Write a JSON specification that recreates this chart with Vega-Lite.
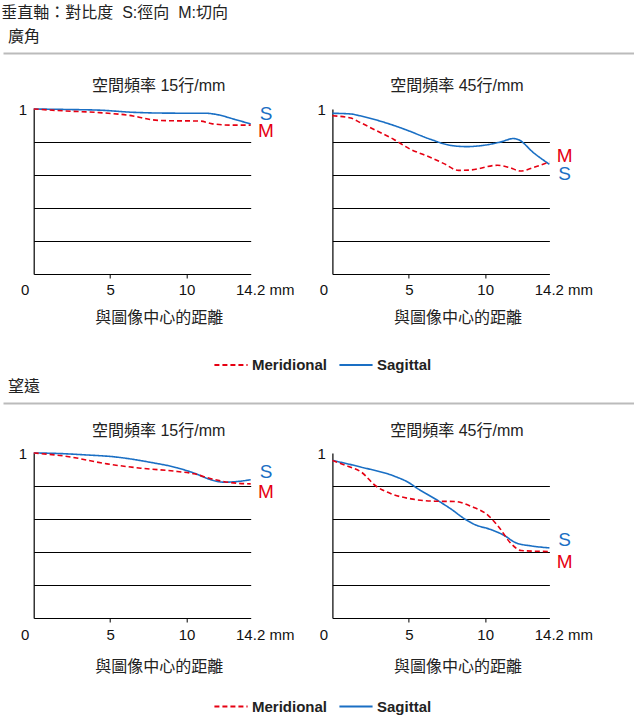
{
  "$schema": "https://vega.github.io/schema/vega-lite/v6.json",
  "background": "white",
  "padding": {"top": 5, "left": 0, "right": 0, "bottom": 0},
  "autosize": {"type": "pad"},
  "spacing": 0,
  "title": {"text": "垂直軸：對比度\u00a0 S:徑向\u00a0 M:切向", "anchor": "start", "dx": 1, "offset": 8},
  "config": {
    "view": {"stroke": null},
    "font": "'Liberation Sans', 'Noto Sans CJK TC'",
    "title": {"font": "'Liberation Sans', 'Noto Sans CJK TC'", "fontSize": 16, "fontWeight": "normal", "color": "#222222"},
    "axis": {"labelFont": "'Liberation Sans', 'Noto Sans CJK TC'", "labelFontSize": 15, "labelColor": "#111111", "titleFont": "'Liberation Sans', 'Noto Sans CJK TC'", "titleFontSize": 16, "titleFontWeight": "normal", "titleColor": "#222222", "domainColor": "#000000", "tickColor": "#000000", "gridColor": "#000000", "domainWidth": 1.2, "gridWidth": 1}
  },
  "resolve": {
    "scale": {"x": "independent", "y": "independent", "color": "independent", "strokeDash": "independent"},
    "legend": {"color": "independent", "strokeDash": "independent"}
  },
  "datasets": {
    "curves": [
      {"p": "w15", "t": "Sagittal", "x": 0, "v": 1.0},
      {"p": "w15", "t": "Sagittal", "x": 2.2, "v": 0.997},
      {"p": "w15", "t": "Sagittal", "x": 4.3, "v": 0.993},
      {"p": "w15", "t": "Sagittal", "x": 6.5, "v": 0.98},
      {"p": "w15", "t": "Sagittal", "x": 8.7, "v": 0.975},
      {"p": "w15", "t": "Sagittal", "x": 11.3, "v": 0.974},
      {"p": "w15", "t": "Sagittal", "x": 12.0, "v": 0.966},
      {"p": "w15", "t": "Sagittal", "x": 13.05, "v": 0.94},
      {"p": "w15", "t": "Sagittal", "x": 14.2, "v": 0.909},
      {"p": "w15", "t": "Meridional", "x": 0, "v": 1.0},
      {"p": "w15", "t": "Meridional", "x": 2.1, "v": 0.988},
      {"p": "w15", "t": "Meridional", "x": 4.3, "v": 0.978},
      {"p": "w15", "t": "Meridional", "x": 6.5, "v": 0.958},
      {"p": "w15", "t": "Meridional", "x": 7.8, "v": 0.934},
      {"p": "w15", "t": "Meridional", "x": 8.8, "v": 0.929},
      {"p": "w15", "t": "Meridional", "x": 10.9, "v": 0.927},
      {"p": "w15", "t": "Meridional", "x": 11.7, "v": 0.91},
      {"p": "w15", "t": "Meridional", "x": 13.1, "v": 0.902},
      {"p": "w15", "t": "Meridional", "x": 14.2, "v": 0.902},
      {"p": "w45", "t": "Sagittal", "x": 0, "v": 0.974},
      {"p": "w45", "t": "Sagittal", "x": 1.2, "v": 0.97},
      {"p": "w45", "t": "Sagittal", "x": 1.8, "v": 0.959},
      {"p": "w45", "t": "Sagittal", "x": 3.4, "v": 0.919},
      {"p": "w45", "t": "Sagittal", "x": 4.7, "v": 0.878},
      {"p": "w45", "t": "Sagittal", "x": 6.4, "v": 0.817},
      {"p": "w45", "t": "Sagittal", "x": 7.7, "v": 0.78},
      {"p": "w45", "t": "Sagittal", "x": 8.8, "v": 0.772},
      {"p": "w45", "t": "Sagittal", "x": 9.9, "v": 0.78},
      {"p": "w45", "t": "Sagittal", "x": 11.0, "v": 0.8},
      {"p": "w45", "t": "Sagittal", "x": 11.85, "v": 0.821},
      {"p": "w45", "t": "Sagittal", "x": 12.2, "v": 0.813},
      {"p": "w45", "t": "Sagittal", "x": 13.15, "v": 0.736},
      {"p": "w45", "t": "Sagittal", "x": 14.2, "v": 0.665},
      {"p": "w45", "t": "Meridional", "x": 0, "v": 0.959},
      {"p": "w45", "t": "Meridional", "x": 1.2, "v": 0.945},
      {"p": "w45", "t": "Meridional", "x": 1.8, "v": 0.919},
      {"p": "w45", "t": "Meridional", "x": 2.9, "v": 0.868},
      {"p": "w45", "t": "Meridional", "x": 4.0, "v": 0.817},
      {"p": "w45", "t": "Meridional", "x": 5.1, "v": 0.756},
      {"p": "w45", "t": "Meridional", "x": 6.2, "v": 0.715},
      {"p": "w45", "t": "Meridional", "x": 7.3, "v": 0.669},
      {"p": "w45", "t": "Meridional", "x": 8.25, "v": 0.628},
      {"p": "w45", "t": "Meridional", "x": 9.0, "v": 0.63},
      {"p": "w45", "t": "Meridional", "x": 10.8, "v": 0.659},
      {"p": "w45", "t": "Meridional", "x": 11.6, "v": 0.645},
      {"p": "w45", "t": "Meridional", "x": 12.3, "v": 0.624},
      {"p": "w45", "t": "Meridional", "x": 13.15, "v": 0.645},
      {"p": "w45", "t": "Meridional", "x": 14.2, "v": 0.679},
      {"p": "t15", "t": "Sagittal", "x": 0, "v": 1.0},
      {"p": "t15", "t": "Sagittal", "x": 1.3, "v": 0.998},
      {"p": "t15", "t": "Sagittal", "x": 3.3, "v": 0.989},
      {"p": "t15", "t": "Sagittal", "x": 5.45, "v": 0.975},
      {"p": "t15", "t": "Sagittal", "x": 7.6, "v": 0.944},
      {"p": "t15", "t": "Sagittal", "x": 9.4, "v": 0.91},
      {"p": "t15", "t": "Sagittal", "x": 10.5, "v": 0.878},
      {"p": "t15", "t": "Sagittal", "x": 11.6, "v": 0.838},
      {"p": "t15", "t": "Sagittal", "x": 12.45, "v": 0.823},
      {"p": "t15", "t": "Sagittal", "x": 13.3, "v": 0.827},
      {"p": "t15", "t": "Sagittal", "x": 14.2, "v": 0.838},
      {"p": "t15", "t": "Meridional", "x": 0, "v": 1.0},
      {"p": "t15", "t": "Meridional", "x": 2.2, "v": 0.979},
      {"p": "t15", "t": "Meridional", "x": 4.8, "v": 0.934},
      {"p": "t15", "t": "Meridional", "x": 7.0, "v": 0.908},
      {"p": "t15", "t": "Meridional", "x": 9.4, "v": 0.888},
      {"p": "t15", "t": "Meridional", "x": 10.5, "v": 0.874},
      {"p": "t15", "t": "Meridional", "x": 11.6, "v": 0.844},
      {"p": "t15", "t": "Meridional", "x": 12.7, "v": 0.823},
      {"p": "t15", "t": "Meridional", "x": 14.2, "v": 0.813},
      {"p": "t45", "t": "Sagittal", "x": 0, "v": 0.955},
      {"p": "t45", "t": "Sagittal", "x": 1.9, "v": 0.914},
      {"p": "t45", "t": "Sagittal", "x": 4.1, "v": 0.858},
      {"p": "t45", "t": "Sagittal", "x": 4.95, "v": 0.823},
      {"p": "t45", "t": "Sagittal", "x": 5.6, "v": 0.783},
      {"p": "t45", "t": "Sagittal", "x": 6.9, "v": 0.712},
      {"p": "t45", "t": "Sagittal", "x": 7.8, "v": 0.658},
      {"p": "t45", "t": "Sagittal", "x": 8.65, "v": 0.601},
      {"p": "t45", "t": "Sagittal", "x": 9.3, "v": 0.567},
      {"p": "t45", "t": "Sagittal", "x": 10.4, "v": 0.535},
      {"p": "t45", "t": "Sagittal", "x": 11.25, "v": 0.5},
      {"p": "t45", "t": "Sagittal", "x": 12.0, "v": 0.456},
      {"p": "t45", "t": "Sagittal", "x": 13.0, "v": 0.437},
      {"p": "t45", "t": "Sagittal", "x": 14.2, "v": 0.425},
      {"p": "t45", "t": "Meridional", "x": 0, "v": 0.955},
      {"p": "t45", "t": "Meridional", "x": 1.05, "v": 0.918},
      {"p": "t45", "t": "Meridional", "x": 1.9, "v": 0.884},
      {"p": "t45", "t": "Meridional", "x": 2.8, "v": 0.803},
      {"p": "t45", "t": "Meridional", "x": 3.85, "v": 0.753},
      {"p": "t45", "t": "Meridional", "x": 5.15, "v": 0.722},
      {"p": "t45", "t": "Meridional", "x": 6.7, "v": 0.708},
      {"p": "t45", "t": "Meridional", "x": 8.0, "v": 0.706},
      {"p": "t45", "t": "Meridional", "x": 9.1, "v": 0.676},
      {"p": "t45", "t": "Meridional", "x": 10.2, "v": 0.621},
      {"p": "t45", "t": "Meridional", "x": 10.9, "v": 0.55},
      {"p": "t45", "t": "Meridional", "x": 11.7, "v": 0.45},
      {"p": "t45", "t": "Meridional", "x": 12.35, "v": 0.409},
      {"p": "t45", "t": "Meridional", "x": 14.2, "v": 0.403}
    ],
    "labels": [
      {"p": "w15", "t": "Sagittal", "lab": "S", "x": 15.2, "v": 0.97},
      {"p": "w15", "t": "Meridional", "lab": "M", "x": 15.2, "v": 0.866},
      {"p": "w45", "t": "Meridional", "lab": "M", "x": 15.2, "v": 0.713},
      {"p": "w45", "t": "Sagittal", "lab": "S", "x": 15.2, "v": 0.604},
      {"p": "t15", "t": "Sagittal", "lab": "S", "x": 15.2, "v": 0.882},
      {"p": "t15", "t": "Meridional", "lab": "M", "x": 15.2, "v": 0.761},
      {"p": "t45", "t": "Sagittal", "lab": "S", "x": 15.2, "v": 0.47},
      {"p": "t45", "t": "Meridional", "lab": "M", "x": 15.2, "v": 0.342}
    ],
    "legend": [{"t": "Meridional"}, {"t": "Sagittal"}],
    "sep": [{"s": 0}],
    "none": []
  },
  "vconcat": [
    {
      "width": 634, "height": 25,
      "title": {"text": "廣角", "anchor": "start", "frame": "group", "dx": 5, "offset": 8},
      "data": {"name": "sep"},
      "mark": {"type": "point", "opacity": 0},
      "encoding": {"x": {"field": "s", "type": "quantitative", "scale": {"domain": [0, 1]}, "axis": {"orient": "top", "title": null, "labels": false, "ticks": false, "grid": false, "domainColor": "#bbbbbb", "domainWidth": 2}}}
    },
    {
      "hconcat": [
        {"width": 1, "height": 1, "data": {"name": "none"}, "mark": "point"},
        {
          "width": 217, "height": 165,
          "title": {"text": "空間頻率 15行/mm", "frame": "group", "dx": 16.5, "offset": 8},
          "layer": [
            {
              "data": {"name": "curves"},
              "transform": [{"filter": "datum.p == 'w15'"}],
              "mark": {"type": "line", "interpolate": "monotone", "strokeWidth": 1.6},
              "encoding": {
                "x": {"field": "x", "type": "quantitative", "scale": {"domain": [0, 14.2], "nice": false, "zero": false},
                  "axis": {"values": [0, 5, 10, 14.2], "title": "與圖像中心的距離", "titleX": 125, "labelExpr": "datum.value > 14 ? '14.2 mm' : datum.value + ''", "labelFlush": false, "labelOffset": {"condition": [{"test": "datum.value == 0", "value": -9}, {"test": "datum.value > 14", "value": 14}], "value": 0}, "tickSize": 4, "tickOpacity": {"condition": {"test": "datum.value == 0 || datum.value > 14", "value": 0}, "value": 1}, "grid": false, "labelPadding": 4, "titlePadding": 12}},
                "y": {"field": "v", "type": "quantitative", "scale": {"domain": [0, 1], "nice": false},
                  "axis": {"values": [0.2, 0.4, 0.6, 0.8, 1], "labelExpr": "datum.value == 1 ? '1' : ''", "ticks": false, "grid": true, "gridOpacity": {"condition": {"test": "datum.value == 1", "value": 0}, "value": 1}, "labelPadding": 7, "title": null}},
                "color": {"field": "t", "type": "nominal", "scale": {"domain": ["Meridional", "Sagittal"], "range": ["#e60012", "#1a6fc4"]}, "legend": null},
                "strokeDash": {"field": "t", "type": "nominal", "scale": {"domain": ["Meridional", "Sagittal"], "range": [[5, 3], [1, 0]]}, "legend": null}
              }
            },
            {
              "data": {"name": "labels"},
              "transform": [{"filter": "datum.p == 'w15'"}],
              "mark": {"type": "text", "fontSize": 19, "font": "Liberation Sans", "align": "center", "baseline": "middle"},
              "encoding": {
                "x": {"field": "x", "type": "quantitative"},
                "y": {"field": "v", "type": "quantitative"},
                "text": {"field": "lab"},
                "color": {"field": "t", "type": "nominal", "legend": null}
              }
            }
          ]
        },
        {
          "width": 217, "height": 165,
          "title": {"text": "空間頻率 45行/mm", "frame": "group", "dx": 16, "offset": 8},
          "layer": [
            {
              "data": {"name": "curves"},
              "transform": [{"filter": "datum.p == 'w45'"}],
              "mark": {"type": "line", "interpolate": "monotone", "strokeWidth": 1.6},
              "encoding": {
                "x": {"field": "x", "type": "quantitative", "scale": {"domain": [0, 14.2], "nice": false, "zero": false},
                  "axis": {"values": [0, 5, 10, 14.2], "title": "與圖像中心的距離", "titleX": 125, "labelExpr": "datum.value > 14 ? '14.2 mm' : datum.value + ''", "labelFlush": false, "labelOffset": {"condition": [{"test": "datum.value == 0", "value": -9}, {"test": "datum.value > 14", "value": 14}], "value": 0}, "tickSize": 4, "tickOpacity": {"condition": {"test": "datum.value == 0 || datum.value > 14", "value": 0}, "value": 1}, "grid": false, "labelPadding": 4, "titlePadding": 12}},
                "y": {"field": "v", "type": "quantitative", "scale": {"domain": [0, 1], "nice": false},
                  "axis": {"values": [0.2, 0.4, 0.6, 0.8, 1], "labelExpr": "datum.value == 1 ? '1' : ''", "ticks": false, "grid": true, "gridOpacity": {"condition": {"test": "datum.value == 1", "value": 0}, "value": 1}, "labelPadding": 7, "title": ".", "titleOpacity": 0, "titleAngle": 0, "titleX": -23.3, "titleY": 100, "titleAlign": "left", "titleBaseline": "middle"}},
                "color": {"field": "t", "type": "nominal", "scale": {"domain": ["Meridional", "Sagittal"], "range": ["#e60012", "#1a6fc4"]}, "legend": null},
                "strokeDash": {"field": "t", "type": "nominal", "scale": {"domain": ["Meridional", "Sagittal"], "range": [[5, 3], [1, 0]]}, "legend": null}
              }
            },
            {
              "data": {"name": "labels"},
              "transform": [{"filter": "datum.p == 'w45'"}],
              "mark": {"type": "text", "fontSize": 19, "font": "Liberation Sans", "align": "center", "baseline": "middle"},
              "encoding": {
                "x": {"field": "x", "type": "quantitative"},
                "y": {"field": "v", "type": "quantitative"},
                "text": {"field": "lab"},
                "color": {"field": "t", "type": "nominal", "legend": null}
              }
            }
          ]
        }
      ],
      "spacing": 13.7
    },
    {
      "width": 634, "height": 54,
      "data": {"name": "legend"},
      "mark": {"type": "line", "opacity": 0},
      "encoding": {
        "color": {"field": "t", "type": "nominal", "scale": {"domain": ["Meridional", "Sagittal"], "range": ["#e60012", "#1a6fc4"]},
          "legend": {"orient": "none", "legendX": 210, "legendY": 22, "direction": "horizontal", "title": null, "symbolType": "stroke", "symbolSize": 1100, "symbolStrokeWidth": 2, "symbolOpacity": 1, "labelFont": "Liberation Sans", "labelFontSize": 15, "labelFontWeight": "bold", "labelColor": "#222222", "labelOffset": 3, "columnPadding": 7, "padding": 0}},
        "strokeDash": {"field": "t", "type": "nominal", "scale": {"domain": ["Meridional", "Sagittal"], "range": [[5, 3], [1, 0]]}}
      }
    },
    {
      "width": 634, "height": 20,
      "title": {"text": "望遠", "anchor": "start", "frame": "group", "dx": 5, "offset": 8},
      "data": {"name": "sep"},
      "mark": {"type": "point", "opacity": 0},
      "encoding": {"x": {"field": "s", "type": "quantitative", "scale": {"domain": [0, 1]}, "axis": {"orient": "top", "title": null, "labels": false, "ticks": false, "grid": false, "domainColor": "#bbbbbb", "domainWidth": 2}}}
    },
    {
      "hconcat": [
        {"width": 1, "height": 1, "data": {"name": "none"}, "mark": "point"},
        {
          "width": 217, "height": 165,
          "title": {"text": "空間頻率 15行/mm", "frame": "group", "dx": 16.5, "offset": 7},
          "layer": [
            {
              "data": {"name": "curves"},
              "transform": [{"filter": "datum.p == 't15'"}],
              "mark": {"type": "line", "interpolate": "monotone", "strokeWidth": 1.6},
              "encoding": {
                "x": {"field": "x", "type": "quantitative", "scale": {"domain": [0, 14.2], "nice": false, "zero": false},
                  "axis": {"values": [0, 5, 10, 14.2], "title": "與圖像中心的距離", "titleX": 125, "labelExpr": "datum.value > 14 ? '14.2 mm' : datum.value + ''", "labelFlush": false, "labelOffset": {"condition": [{"test": "datum.value == 0", "value": -9}, {"test": "datum.value > 14", "value": 14}], "value": 0}, "tickSize": 4, "tickOpacity": {"condition": {"test": "datum.value == 0 || datum.value > 14", "value": 0}, "value": 1}, "grid": false, "labelPadding": 5, "titlePadding": 16}},
                "y": {"field": "v", "type": "quantitative", "scale": {"domain": [0, 1], "nice": false},
                  "axis": {"values": [0.2, 0.4, 0.6, 0.8, 1], "labelExpr": "datum.value == 1 ? '1' : ''", "ticks": false, "grid": true, "gridOpacity": {"condition": {"test": "datum.value == 1", "value": 0}, "value": 1}, "labelPadding": 7, "title": null}},
                "color": {"field": "t", "type": "nominal", "scale": {"domain": ["Meridional", "Sagittal"], "range": ["#e60012", "#1a6fc4"]}, "legend": null},
                "strokeDash": {"field": "t", "type": "nominal", "scale": {"domain": ["Meridional", "Sagittal"], "range": [[5, 3], [1, 0]]}, "legend": null}
              }
            },
            {
              "data": {"name": "labels"},
              "transform": [{"filter": "datum.p == 't15'"}],
              "mark": {"type": "text", "fontSize": 19, "font": "Liberation Sans", "align": "center", "baseline": "middle"},
              "encoding": {
                "x": {"field": "x", "type": "quantitative"},
                "y": {"field": "v", "type": "quantitative"},
                "text": {"field": "lab"},
                "color": {"field": "t", "type": "nominal", "legend": null}
              }
            }
          ]
        },
        {
          "width": 217, "height": 165,
          "title": {"text": "空間頻率 45行/mm", "frame": "group", "dx": 16, "offset": 7},
          "layer": [
            {
              "data": {"name": "curves"},
              "transform": [{"filter": "datum.p == 't45'"}],
              "mark": {"type": "line", "interpolate": "monotone", "strokeWidth": 1.6},
              "encoding": {
                "x": {"field": "x", "type": "quantitative", "scale": {"domain": [0, 14.2], "nice": false, "zero": false},
                  "axis": {"values": [0, 5, 10, 14.2], "title": "與圖像中心的距離", "titleX": 125, "labelExpr": "datum.value > 14 ? '14.2 mm' : datum.value + ''", "labelFlush": false, "labelOffset": {"condition": [{"test": "datum.value == 0", "value": -9}, {"test": "datum.value > 14", "value": 14}], "value": 0}, "tickSize": 4, "tickOpacity": {"condition": {"test": "datum.value == 0 || datum.value > 14", "value": 0}, "value": 1}, "grid": false, "labelPadding": 5, "titlePadding": 16}},
                "y": {"field": "v", "type": "quantitative", "scale": {"domain": [0, 1], "nice": false},
                  "axis": {"values": [0.2, 0.4, 0.6, 0.8, 1], "labelExpr": "datum.value == 1 ? '1' : ''", "ticks": false, "grid": true, "gridOpacity": {"condition": {"test": "datum.value == 1", "value": 0}, "value": 1}, "labelPadding": 7, "title": ".", "titleOpacity": 0, "titleAngle": 0, "titleX": -23.3, "titleY": 100, "titleAlign": "left", "titleBaseline": "middle"}},
                "color": {"field": "t", "type": "nominal", "scale": {"domain": ["Meridional", "Sagittal"], "range": ["#e60012", "#1a6fc4"]}, "legend": null},
                "strokeDash": {"field": "t", "type": "nominal", "scale": {"domain": ["Meridional", "Sagittal"], "range": [[5, 3], [1, 0]]}, "legend": null}
              }
            },
            {
              "data": {"name": "labels"},
              "transform": [{"filter": "datum.p == 't45'"}],
              "mark": {"type": "text", "fontSize": 19, "font": "Liberation Sans", "align": "center", "baseline": "middle"},
              "encoding": {
                "x": {"field": "x", "type": "quantitative"},
                "y": {"field": "v", "type": "quantitative"},
                "text": {"field": "lab"},
                "color": {"field": "t", "type": "nominal", "legend": null}
              }
            }
          ]
        }
      ],
      "spacing": 13.7
    },
    {
      "width": 634, "height": 47,
      "data": {"name": "legend"},
      "mark": {"type": "line", "opacity": 0},
      "encoding": {
        "color": {"field": "t", "type": "nominal", "scale": {"domain": ["Meridional", "Sagittal"], "range": ["#e60012", "#1a6fc4"]},
          "legend": {"orient": "none", "legendX": 210, "legendY": 14.5, "direction": "horizontal", "title": null, "symbolType": "stroke", "symbolSize": 1100, "symbolStrokeWidth": 2, "symbolOpacity": 1, "labelFont": "Liberation Sans", "labelFontSize": 15, "labelFontWeight": "bold", "labelColor": "#222222", "labelOffset": 3, "columnPadding": 7, "padding": 0}},
        "strokeDash": {"field": "t", "type": "nominal", "scale": {"domain": ["Meridional", "Sagittal"], "range": [[5, 3], [1, 0]]}}
      }
    }
  ]
}
